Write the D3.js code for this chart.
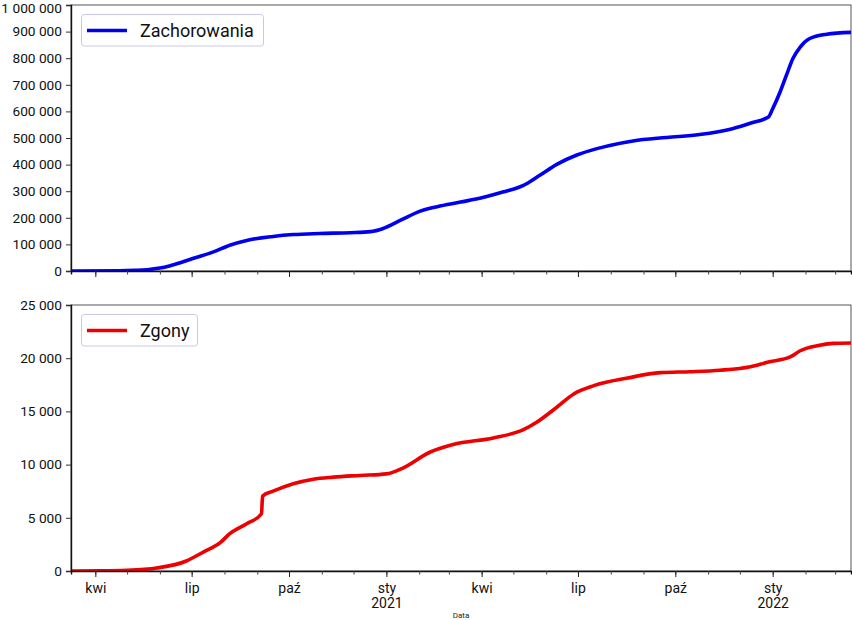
<!DOCTYPE html>
<html><head><meta charset="utf-8">
<script src="https://cdn.jsdelivr.net/npm/d3@7"></script>
<style>body{margin:0;background:#fff}svg{display:block}</style>
</head><body><svg id="c" width="852" height="620"></svg>
<script>
const casesDates = ["2020-03-09","2020-04-24","2020-05-08","2020-05-20","2020-06-01","2020-06-10","2020-06-21","2020-07-02","2020-07-21","2020-08-06","2020-08-22","2020-09-16","2020-10-05","2020-10-30","2020-11-28","2020-12-17","2020-12-29","2021-01-14","2021-02-02","2021-02-18","2021-03-12","2021-04-02","2021-04-21","2021-05-10","2021-05-26","2021-06-11","2021-06-30","2021-07-19","2021-07-31","2021-08-22","2021-09-23","2021-10-24","2021-11-24","2021-12-13","2021-12-28","2022-01-01","2022-01-08","2022-01-14","2022-01-20","2022-01-27","2022-02-05","2022-02-21","2022-03-16"];
const casesValues = [0,1000,2500,5000,11000,19000,32000,47000,71000,97000,115000,130000,137000,141000,144000,148000,160000,190000,225000,242000,259000,276000,297000,321000,360000,401000,436000,460000,472000,489000,502000,513000,535000,558000,579000,610000,673000,736000,798000,842000,874000,890000,897000];

const deathsDates = ["2020-03-09","2020-04-06","2020-05-01","2020-05-29","2020-06-26","2020-07-12","2020-07-28","2020-08-06","2020-08-22","2020-09-05","2020-09-06","2020-09-16","2020-10-05","2020-10-24","2020-11-12","2020-12-07","2021-01-01","2021-01-17","2021-02-11","2021-03-05","2021-04-12","2021-05-10","2021-05-23","2021-06-11","2021-06-27","2021-07-16","2021-08-17","2021-09-17","2021-10-15","2021-11-12","2021-12-11","2021-12-27","2022-01-18","2022-01-27","2022-02-12","2022-02-27","2022-03-16"];
const deathsValues = [0,10,60,280,940,1780,2660,3510,4440,5380,7040,7500,8200,8630,8820,8980,9130,9700,11160,11890,12510,13260,13980,15390,16640,17420,18140,18640,18730,18870,19200,19610,20140,20700,21170,21390,21430];

const casesTicks = [0,100000,200000,300000,400000,500000,600000,700000,800000,900000,1000000];
const deathsTicks = [0,5000,10000,15000,20000,25000];
const monthLabels = ["sty","lut","mar","kwi","maj","cze","lip","sie","wrz","paź","lis","gru"];
const xDomainDates = ["2020-03-09","2022-03-16"];
const seriesNames = ["Zachorowania","Zgony"];
const xAxisTitle = "Data";

const parse = d3.utcParse("%Y-%m-%d");
const svg = d3.select("#c");
const FONT = "Roboto, 'Noto Sans', sans-serif";
const left = 71, right = 851;
const x = d3.scaleUtc().domain(xDomainDates.map(parse)).range([left, right]);
const loc = d3.formatLocale({decimal:",", thousands:" ", grouping:[3], currency:["","zł"]});
const fmt = loc.format(",d");

const panels = [
  {top:5, bottom:271, dates:casesDates, values:casesValues, ticks:casesTicks, max:1000000, color:"#0000ee", name:seriesNames[0], legendW:182, labels:false},
  {top:305, bottom:571, dates:deathsDates, values:deathsValues, ticks:deathsTicks, max:25000, color:"#ee0000", name:seriesNames[1], legendW:116, labels:true}
];

panels.forEach(p => {
  const y = d3.scaleLinear().domain([0, p.max]).range([p.bottom, p.top]);
  const g = svg.append("g");
  g.append("rect").attr("x", left).attr("y", p.top).attr("width", right-left).attr("height", p.bottom-p.top)
    .attr("fill","none").attr("stroke","#555").attr("stroke-width",1);
  const data = p.dates.map((d,i)=>({d:parse(d), v:p.values[i]}));
  const clipId = "clip"+p.top;
  svg.append("clipPath").attr("id",clipId).append("rect").attr("x",left).attr("y",p.top-3).attr("width",right-left).attr("height",p.bottom-p.top+3);
  g.append("path").datum(data)
    .attr("clip-path",`url(#${clipId})`)
    .attr("fill","none").attr("stroke",p.color).attr("stroke-width",3.6)
    .attr("stroke-linejoin","round").attr("stroke-linecap","butt")
    .attr("d", d3.line().x(d=>x(d.d)).y(d=>y(d.v)).curve(d3.curveMonotoneX));
  const ya = g.append("g").attr("transform",`translate(${left},0)`)
    .call(d3.axisLeft(y).tickValues(p.ticks).tickFormat(fmt).tickSize(5).tickPadding(4));
  ya.select(".domain").attr("stroke","#111").attr("stroke-width",1.4);
  ya.selectAll(".tick line").attr("stroke","#333");
  ya.selectAll("text").attr("font-family",FONT).attr("font-size",13.7).attr("fill","#111")
    .attr("dy", d => d === p.max && p.max >= 1000000 ? "0.58em" : "0.32em");
  const xm = g.append("g").attr("transform",`translate(0,${p.bottom})`)
    .call(d3.axisBottom(x).ticks(d3.utcMonth.every(1)).tickSize(3.5).tickFormat(""));
  xm.select(".domain").attr("stroke","#111").attr("stroke-width",1.4);
  xm.selectAll(".tick line").attr("stroke","#444");
  const xM = g.append("g").attr("transform",`translate(0,${p.bottom})`)
    .call(d3.axisBottom(x).ticks(d3.utcMonth.every(3)).tickSize(6).tickPadding(6).tickFormat(""));
  xM.select(".domain").remove();
  xM.selectAll(".tick line").attr("stroke","#222");
  if (p.labels) {
    xM.selectAll(".tick").each(function(d){
      const t = d3.select(this).append("text").attr("fill","#111")
        .attr("font-family",FONT).attr("font-size",14).attr("text-anchor","middle").attr("y",21.5);
      t.append("tspan").attr("x",0).text(monthLabels[d.getUTCMonth()]);
      if (d.getUTCMonth() === 0) t.append("tspan").attr("x",0).attr("y",37).text(d.getUTCFullYear());
    });
  }
  const lg = g.append("g").attr("transform",`translate(81.5,${p.top+9.5})`);
  lg.append("rect").attr("width",p.legendW).attr("height",31.5).attr("rx",3)
    .attr("fill","#fff").attr("fill-opacity",0.8).attr("stroke","#c8c8e6").attr("stroke-width",1);
  lg.append("line").attr("x1",5.5).attr("x2",45.5).attr("y1",16).attr("y2",16)
    .attr("stroke",p.color).attr("stroke-width",3.6);
  lg.append("text").attr("x",58.5).attr("y",22.5).attr("font-family",FONT).attr("font-size",18)
    .attr("fill","#111").text(p.name);
});

svg.append("text").attr("x",461).attr("y",618).attr("text-anchor","middle")
  .attr("font-family",FONT).attr("font-size",8).attr("fill","#222").text(xAxisTitle);
</script>
</body></html>
